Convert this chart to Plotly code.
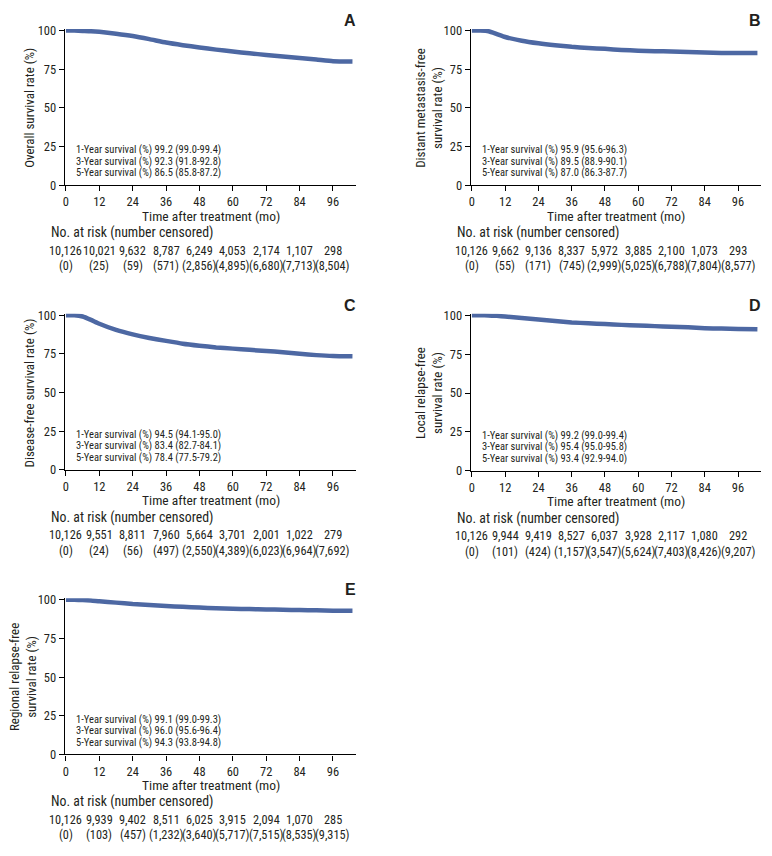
import plotly.graph_objects as go

W, H = 772, 856

# ---------------- data ----------------
months = [0, 3, 6, 9, 12, 18, 24, 30, 36, 42, 48, 54, 60, 66, 72, 78, 84, 90, 96, 103]

os_rate   = [100, 100, 99.8, 99.6, 99.2, 98.0, 96.5, 94.5, 92.3, 90.6, 89.1, 87.7, 86.5, 85.3, 84.3, 83.3, 82.3, 81.3, 80.2, 80.0]
dmfs_rate = [100, 100, 99.6, 97.8, 95.9, 93.5, 91.8, 90.5, 89.5, 88.8, 88.2, 87.5, 87.0, 86.7, 86.5, 86.2, 85.8, 85.6, 85.5, 85.5]
dfs_rate  = [100, 100, 99.2, 97.0, 94.5, 90.5, 87.6, 85.3, 83.4, 81.6, 80.3, 79.2, 78.4, 77.6, 76.9, 76.1, 75.1, 74.2, 73.6, 73.4]
lrfs_rate = [100, 100, 99.9, 99.6, 99.2, 98.2, 97.2, 96.3, 95.4, 94.8, 94.3, 93.8, 93.4, 93.0, 92.6, 92.2, 91.7, 91.4, 91.2, 91.0]
rrfs_rate = [100, 100, 99.9, 99.6, 99.1, 98.2, 97.3, 96.7, 96.0, 95.5, 95.0, 94.6, 94.3, 94.0, 93.8, 93.6, 93.4, 93.2, 93.0, 92.9]

risk_months = [0, 12, 24, 36, 48, 60, 72, 84, 96]
os_risk   = [10126, 10021, 9632, 8787, 6249, 4053, 2174, 1107, 298]
os_cens   = [0, 25, 59, 571, 2856, 4895, 6680, 7713, 8504]
dmfs_risk = [10126, 9662, 9136, 8337, 5972, 3885, 2100, 1073, 293]
dmfs_cens = [0, 55, 171, 745, 2999, 5025, 6788, 7804, 8577]
dfs_risk  = [10126, 9551, 8811, 7960, 5664, 3701, 2001, 1022, 279]
dfs_cens  = [0, 24, 56, 497, 2550, 4389, 6023, 6964, 7692]
lrfs_risk = [10126, 9944, 9419, 8527, 6037, 3928, 2117, 1080, 292]
lrfs_cens = [0, 101, 424, 1157, 3547, 5624, 7403, 8426, 9207]
rrfs_risk = [10126, 9939, 9402, 8511, 6025, 3915, 2094, 1070, 285]
rrfs_cens = [0, 103, 457, 1232, 3640, 5717, 7515, 8535, 9315]

os_stats   = ["1-Year survival (%) 99.2 (99.0-99.4)", "3-Year survival (%) 92.3 (91.8-92.8)", "5-Year survival (%) 86.5 (85.8-87.2)"]
dmfs_stats = ["1-Year survival (%) 95.9 (95.6-96.3)", "3-Year survival (%) 89.5 (88.9-90.1)", "5-Year survival (%) 87.0 (86.3-87.7)"]
dfs_stats  = ["1-Year survival (%) 94.5 (94.1-95.0)", "3-Year survival (%) 83.4 (82.7-84.1)", "5-Year survival (%) 78.4 (77.5-79.2)"]
lrfs_stats = ["1-Year survival (%) 99.2 (99.0-99.4)", "3-Year survival (%) 95.4 (95.0-95.8)", "5-Year survival (%) 93.4 (92.9-94.0)"]
rrfs_stats = ["1-Year survival (%) 99.1 (99.0-99.3)", "3-Year survival (%) 96.0 (95.6-96.4)", "5-Year survival (%) 94.3 (93.8-94.8)"]

x_ticks = [0, 12, 24, 36, 48, 60, 72, 84, 96]
y_ticks = [0, 25, 50, 75, 100]

# ---------------- layout geometry (pixels) ----------------
panels = [
    dict(letter="A", ytitle="Overall survival rate (%)", y=os_rate, risk=os_risk, cens=os_cens, stats=os_stats,
         xL=63, xR=355, yT=25, yB=182, two=False),
    dict(letter="B", ytitle="Distant metastasis-free<br>survival rate (%)", y=dmfs_rate, risk=dmfs_risk, cens=dmfs_cens, stats=dmfs_stats,
         xL=470, xR=761, yT=25, yB=182, two=True),
    dict(letter="C", ytitle="Disease-free survival rate (%)", y=dfs_rate, risk=dfs_risk, cens=dfs_cens, stats=dfs_stats,
         xL=63, xR=355, yT=314, yB=471, two=False),
    dict(letter="D", ytitle="Local relapse-free<br>survival rate (%)", y=lrfs_rate, risk=lrfs_risk, cens=lrfs_cens, stats=lrfs_stats,
         xL=470, xR=761, yT=314, yB=472, two=True),
    dict(letter="E", ytitle="Regional relapse-free<br>survival rate (%)", y=rrfs_rate, risk=rrfs_risk, cens=rrfs_cens, stats=rrfs_stats,
         xL=63, xR=355, yT=603, yB=760, two=True),
]

FONT = "Liberation Sans Narrow, Roboto Condensed, Arial Narrow, DejaVu Sans Condensed, sans-serif"
TXT = "#231f20"
CURVE = "#4d68a3"

def px(x):
    return x / W

def py(y):
    return 1 - y / H

fig = go.Figure()
annotations = []
layout_axes = {}

X_MIN, X_MAX = -0.4, 104.3
Y_MIN, Y_MAX = 0, 101

for i, p in enumerate(panels, start=1):
    xa = "x" if i == 1 else f"x{i}"
    ya = "y" if i == 1 else f"y{i}"
    xkey = "xaxis" if i == 1 else f"xaxis{i}"
    ykey = "yaxis" if i == 1 else f"yaxis{i}"
    pxper = (p["yB"] - p["yT"]) / 100.0
    ytop_px = p["yB"] - Y_MAX * pxper

    fig.add_trace(go.Scatter(
        x=months, y=p["y"], mode="lines", xaxis=xa, yaxis=ya,
        line=dict(color=CURVE, width=4.5, shape="spline", smoothing=0.5),
        showlegend=False, hoverinfo="skip"))

    layout_axes[xkey] = dict(
        domain=[px(p["xL"]), px(p["xR"])], anchor=ya, range=[X_MIN, X_MAX],
        tickvals=x_ticks, ticktext=[str(t) for t in x_ticks],
        showline=True, linecolor="black", linewidth=1.3, ticks="outside",
        ticklen=5, tickwidth=1.3, tickcolor="black", showgrid=False, zeroline=False,
        tickfont=dict(family=FONT, size=12.5, color=TXT), fixedrange=True)
    layout_axes[ykey] = dict(
        domain=[py(p["yB"]), py(ytop_px)], anchor=xa, range=[Y_MIN, Y_MAX],
        tickvals=y_ticks, ticktext=[str(t) for t in y_ticks],
        showline=True, linecolor="black", linewidth=1.3, ticks="outside",
        ticklen=5, tickwidth=1.3, tickcolor="black", showgrid=False, zeroline=False,
        tickfont=dict(family=FONT, size=12.5, color=TXT), fixedrange=True)

    annotations.append(dict(text=f"<b>{p['letter']}</b>", xref="paper", yref="paper",
                            x=px(p["xR"] + 2), y=py(p["yT"] - 10), xanchor="right", yanchor="middle",
                            showarrow=False, font=dict(family="Liberation Sans, Arial, sans-serif", size=16, color=TXT)))
    ytx = p["xL"] - (42 if p["two"] else 35)
    annotations.append(dict(text=p["ytitle"], xref="paper", yref="paper", textangle=-90,
                            x=px(ytx), y=py((p["yT"] + p["yB"]) / 2), xanchor="center", yanchor="middle",
                            showarrow=False, font=dict(family=FONT, size=13, color=TXT)))
    annotations.append(dict(text="Time after treatment (mo)", xref=xa, yref="paper",
                            x=52, y=py(p["yB"] + 31), xanchor="center", yanchor="middle",
                            showarrow=False, borderpad=0, font=dict(family=FONT, size=13.5, color=TXT)))
    annotations.append(dict(text="No. at risk (number censored)", xref="paper", yref="paper",
                            x=px(p["xL"] - 15), y=py(p["yB"] + 48), xanchor="left", yanchor="middle",
                            showarrow=False, borderpad=0, font=dict(family=FONT, size=13.8, color=TXT)))
    for m, r, c in zip(risk_months, p["risk"], p["cens"]):
        annotations.append(dict(text=f"{r:,}", xref=xa, yref="paper", x=m, y=py(p["yB"] + 66.5),
                                xanchor="center", yanchor="middle", showarrow=False, borderpad=0,
                                font=dict(family=FONT, size=12.3, color=TXT)))
        annotations.append(dict(text=f"({c:,})", xref=xa, yref="paper", x=m, y=py(p["yB"] + 82),
                                xanchor="center", yanchor="middle", showarrow=False, borderpad=0,
                                font=dict(family=FONT, size=12.3, color=TXT)))
    for k, s in enumerate(p["stats"]):
        annotations.append(dict(text=s, xref="paper", yref="paper",
                                x=px(p["xL"] + 10), y=py(p["yB"] - 36 + 11.7 * k), xanchor="left", yanchor="middle",
                                showarrow=False, borderpad=0, font=dict(family=FONT, size=10.5, color=TXT)))

fig.update_layout(
    width=W, height=H, margin=dict(l=0, r=0, t=0, b=0),
    paper_bgcolor="white", plot_bgcolor="white",
    annotations=annotations, showlegend=False, **layout_axes)

fig.write_html("out.html", config={"displayModeBar": False},
               post_script="document.body.style.margin='0';document.body.style.padding='0';document.body.style.overflow='hidden';")
